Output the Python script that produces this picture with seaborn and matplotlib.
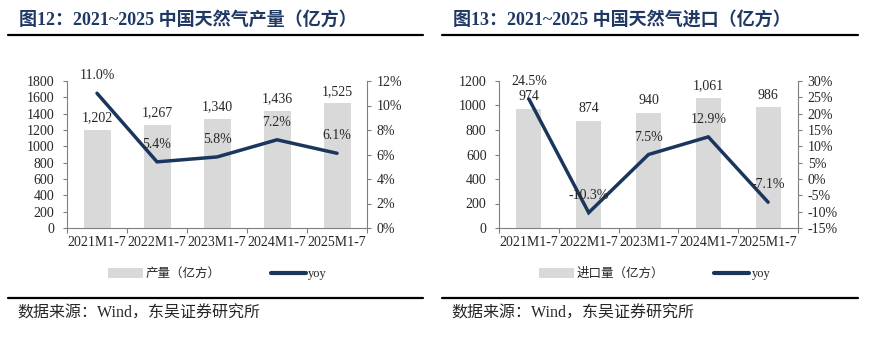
import numpy as np
import matplotlib
matplotlib.use("Agg")
import matplotlib.pyplot as plt
from matplotlib.patches import Patch
from matplotlib.lines import Line2D
from matplotlib.ticker import FixedLocator, NullFormatter
import seaborn as sns

# ---- data ----
periods = ["2021M1-7", "2022M1-7", "2023M1-7", "2024M1-7", "2025M1-7"]

output_vals = [1202, 1267, 1340, 1436, 1525]        # 产量（亿方）
output_yoy = [11.0, 5.4, 5.8, 7.2, 6.1]             # %

import_vals = [974, 874, 940, 1061, 986]            # 进口量（亿方）
import_yoy = [24.5, -10.3, 7.5, 12.9, -7.1]         # %

left_ticks_a = [0, 200, 400, 600, 800, 1000, 1200, 1400, 1600, 1800]
right_ticks_a = [0, 2, 4, 6, 8, 10, 12]
left_ticks_b = [0, 200, 400, 600, 800, 1000, 1200]
right_ticks_b = [-15, -10, -5, 0, 5, 10, 15, 20, 25, 30]

# ---- style ----
sns.set_style("ticks")
plt.rcParams["font.family"] = ["Liberation Serif", "Noto Sans CJK SC"]
plt.rcParams["axes.unicode_minus"] = False

W, H = 869, 338
BAR = "#D9D9D9"
NAVY = "#1B365D"
TITLE_C = "#1F3864"
SPINE = "#7F7F7F"
FS = 10

fig = plt.figure(figsize=(W / 100, H / 100), dpi=100)


def fx(px):
    return px / W


def fy(py):
    return 1 - py / H


def panel(ax_x0, ax_x1, frame_x0, frame_x1, title, bar_label_name,
          vals, yoy, lticks, rticks, bar_w, patch_x):
    top, bottom = 81, 228
    ax = fig.add_axes([fx(ax_x0), fy(bottom), fx(ax_x1 - ax_x0), (bottom - top) / H])
    sns.barplot(x=periods, y=vals, ax=ax, color=BAR, width=bar_w,
                saturation=1, linewidth=0, edgecolor="none")
    ax.set_ylim(lticks[0], lticks[-1])
    ax.set_yticks(lticks)
    ax.set_xlabel("")
    ax.set_ylabel("")

    ax2 = ax.twinx()
    sns.lineplot(x=np.arange(len(periods)), y=yoy, ax=ax2, color=NAVY,
                 linewidth=2.5, solid_joinstyle="miter")
    ax2.set_ylim(rticks[0], rticks[-1])
    ax2.set_yticks(rticks)
    ax2.set_yticklabels([f"{t}%" for t in rticks])
    ax2.set_ylabel("")
    ax.set_xlim(-0.5, len(periods) - 0.5)

    # category labels centred, tick marks on the boundaries
    n = len(periods)
    ax.xaxis.set_major_locator(FixedLocator(np.arange(n + 1) - 0.5))
    ax.xaxis.set_major_formatter(NullFormatter())
    ax.set_xticks(np.arange(n), labels=periods, minor=True)
    ax.tick_params(axis="x", which="minor", length=0, pad=6, labelsize=FS)
    ax.tick_params(axis="x", which="major", length=3.5, width=0.8, color=SPINE)
    ax.tick_params(axis="y", length=3, width=0.8, color=SPINE, pad=6, labelsize=FS)
    ax2.tick_params(axis="y", length=3, width=0.8, color=SPINE, pad=4, labelsize=FS)

    for a in (ax, ax2):
        for s in a.spines.values():
            s.set_color(SPINE)
            s.set_linewidth(0.8)
        a.spines["top"].set_visible(False)
    ax.spines["right"].set_visible(False)
    ax2.spines["left"].set_visible(False)
    ax2.spines["bottom"].set_visible(False)
    ax.grid(False)
    ax2.grid(False)

    # value labels
    ax.bar_label(ax.containers[0], labels=[f"{v:,}" for v in vals],
                 padding=4, fontsize=FS)
    for i, v in enumerate(yoy):
        ax2.annotate(f"{v:.1f}%", (i, v), xytext=(0, 12.5),
                     textcoords="offset points", ha="center", va="center",
                     fontsize=FS)

    # title and rules
    fig.text(fx(frame_x0 + 11), fy(20), title, fontsize=13, fontweight="bold",
             color=TITLE_C, ha="left", va="center")
    for yy in (35, 298):
        fig.add_artist(Line2D([fx(frame_x0), fx(frame_x1)], [fy(yy), fy(yy)],
                              color="black", linewidth=1.6,
                              transform=fig.transFigure))
    fig.text(fx(frame_x0 + 9), fy(314), "数据来源：Wind，东吴证券研究所",
             fontsize=11.5, ha="left", va="center")

    handles = [Patch(facecolor=BAR, edgecolor="none"),
               Line2D([], [], color=NAVY, linewidth=3)]
    fig.legend(handles, [bar_label_name, "yoy"], loc="center left",
               bbox_to_anchor=(fx(patch_x), fy(274)), ncol=2, frameon=False,
               fontsize=9, handlelength=2.8, handleheight=0.8,
               handletextpad=0.2, columnspacing=4.0, borderpad=0,
               borderaxespad=0)
    return ax, ax2


panel(67, 367, 8, 423, "图12：2021~2025 中国天然气产量（亿方）", "产量（亿方）",
      output_vals, output_yoy, left_ticks_a, right_ticks_a, 0.45, 108)
panel(499, 798, 442, 858, "图13：2021~2025 中国天然气进口（亿方）", "进口量（亿方）",
      import_vals, import_yoy, left_ticks_b, right_ticks_b, 0.42, 539)

fig.savefig("out.png", dpi=100)
